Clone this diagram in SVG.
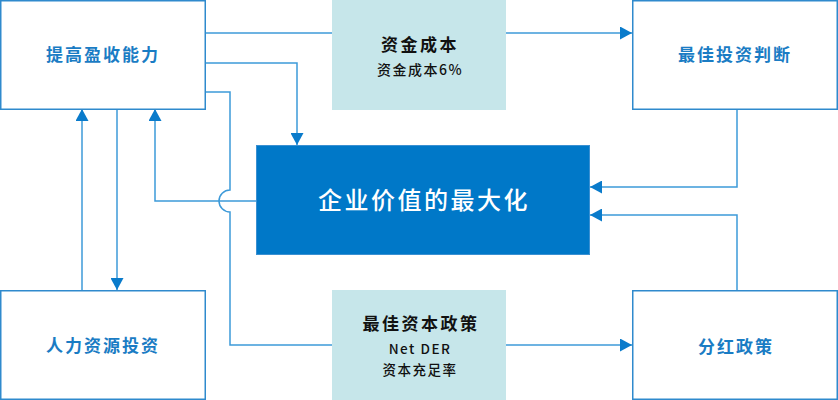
<svg xmlns="http://www.w3.org/2000/svg" width="838" height="400" viewBox="0 0 838 400">
<style>
.box{fill:#fff;stroke:#2F8ACD;stroke-width:1.5}
.cyan{fill:#C6E6EA}
.main{fill:#0078C8;stroke:#3A90D2;stroke-width:1}
.lbl{font-family:"Noto Sans CJK SC","Noto Sans",sans-serif;font-size:17px;font-weight:700;fill:#1A7CC4;letter-spacing:2px;text-anchor:middle}
.blk{font-family:"Noto Sans CJK SC","Noto Sans",sans-serif;fill:#111;text-anchor:middle}
.t1{font-size:17px;font-weight:700;letter-spacing:2.5px}
.t2{font-size:14px;font-weight:500;letter-spacing:1.5px}
.t3{font-size:13.5px;font-weight:500;letter-spacing:1.5px}
.big{font-family:"Noto Sans CJK SC","Noto Sans",sans-serif;font-size:24px;font-weight:500;fill:#fff;letter-spacing:2.5px;text-anchor:middle}
.ln{fill:none;stroke:#3D9AD9;stroke-width:1.5}
</style>
<defs>
<marker id="ah" viewBox="0 0 12 13" refX="12" refY="6.5" markerWidth="12" markerHeight="13" markerUnits="userSpaceOnUse" orient="auto">
<path d="M0,0 L12,6.5 L0,13 z" fill="#0A7BCB"/>
</marker>
</defs>
<g id="connectors">
<path class="ln" d="M205,33 H332"/>
<path class="ln" d="M506,33 H632" marker-end="url(#ah)"/>
<path class="ln" d="M205,63 H297 V145" marker-end="url(#ah)"/>
<path class="ln" d="M205,92 H230 V190 A11,11 0 0 0 230,212 V345 H332"/>
<path class="ln" d="M506,345 H632" marker-end="url(#ah)"/>
<path class="ln" d="M257,201 H155 V109" marker-end="url(#ah)"/>
<path class="ln" d="M82,290 V109" stroke="#1A7CC4" marker-end="url(#ah)"/>
<path class="ln" d="M117,109 V290" marker-end="url(#ah)"/>
<path class="ln" d="M737,109 V187 H590" marker-end="url(#ah)"/>
<path class="ln" d="M737,290 V215 H590" marker-end="url(#ah)"/>
</g>
<g id="n1">
<rect class="box" x="0.75" y="0.75" width="204.5" height="108.5"/>
<text class="lbl" x="103" y="61">提高盈收能力</text>
</g>
<g id="n2">
<rect class="cyan" x="332" y="0" width="174" height="110"/>
<text class="blk t1" x="420" y="51">资金成本</text>
<text class="blk t2" x="420" y="75">资金成本6%</text>
</g>
<g id="n3">
<rect class="box" x="632.75" y="0.75" width="204.5" height="108.5"/>
<text class="lbl" x="735" y="61">最佳投资判断</text>
</g>
<g id="n4">
<rect class="main" x="256.5" y="145.5" width="333" height="109"/>
<text class="big" x="424" y="209">企业价值的最大化</text>
</g>
<g id="n5">
<rect class="box" x="0.75" y="290.75" width="204.5" height="108.5"/>
<text class="lbl" x="103" y="352">人力资源投资</text>
</g>
<g id="n6">
<rect class="cyan" x="332" y="290" width="174" height="110"/>
<text class="blk t1" x="421" y="330">最佳资本政策</text>
<text class="blk t3" x="420" y="354">Net DER</text>
<text class="blk t3" x="420" y="375">资本充足率</text>
</g>
<g id="n7">
<rect class="box" x="632.75" y="290.75" width="204.5" height="108.5"/>
<text class="lbl" x="736" y="353">分红政策</text>
</g>
</svg>
